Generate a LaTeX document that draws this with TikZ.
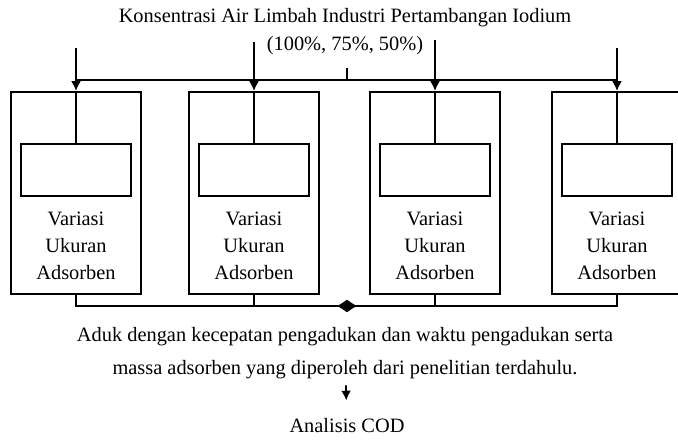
\documentclass[tikz,border=0pt]{standalone}
\usepackage{fontspec}
\setmainfont{Liberation Serif}
\usepackage{tikz}
\usetikzlibrary{calc}
\usetikzlibrary{arrows.meta}
\tikzset{every node/.style={font=\fontsize{14.5}{19}\selectfont}}
\tikzset{kotak/.style={draw, line width=1.3pt, minimum width=3.25cm, minimum height=5.05cm, inner sep=0pt}}
\tikzset{isian/.style={draw, line width=1.3pt, minimum width=2.75cm, minimum height=1.3cm, inner sep=0pt}}

\begin{document}
\begin{tikzpicture}[x=0.025cm, y=-0.025cm, >={Latex[length=7pt,width=7pt]}, line width=1.3pt]
                \useasboundingbox (0,0) rectangle (678,440);
                \clip (0,0) rectangle (678,440);
                \node (judul) at (345,18) {Konsentrasi Air Limbah Industri Pertambangan Iodium};
                \node (persen) at (345,46) {(100\%, 75\%, 50\%)};
                % kotak variasi
                \foreach \x/\i/\t in {76/1/48, 254/2/42, 435/3/40, 617/4/48} {
                    \node [kotak] (k\i) at (\x, 193) {};
                    \node [isian] (s\i) at (\x, 170) {};
                    \node [align=center] (v\i) at (\x, 246) {Variasi\\Ukuran\\Adsorben};
                    \coordinate (a\i) at (\x, \t);
                    \draw [->] (a\i) -- (k\i.north);
                    \draw (k\i.north) -- (s\i.north);
                }
                \coordinate (t) at (347, 68);
                \draw [line width=2pt] (a1 |- 0,80) -- (a4 |- 0,80);
                \draw (t) -- (t |- 0,80);
                % gabung ke bawah
                \coordinate (temu) at (347, 306);
                \draw [-{Latex[reversed,length=7.5pt,width=9.5pt]}] (k1.south) |- (temu);
                \draw [-{Latex[reversed,length=7.5pt,width=9.5pt]}] (k4.south) |- (temu);
                \draw (k2.south) -- (k2.south |- temu);
                \draw (k3.south) -- (k3.south |- temu);
                \node [align=center] (aduk) at (345, 353) {Aduk dengan kecepatan pengadukan dan waktu pengadukan serta\\[4pt]massa adsorben yang diperoleh dari penelitian terdahulu.};
                \node (cod) at (347, 426) {Analisis COD};
                \draw [->, shorten <=1pt, shorten >=9pt] (aduk) -- (cod);
            \end{tikzpicture}
\end{document}
